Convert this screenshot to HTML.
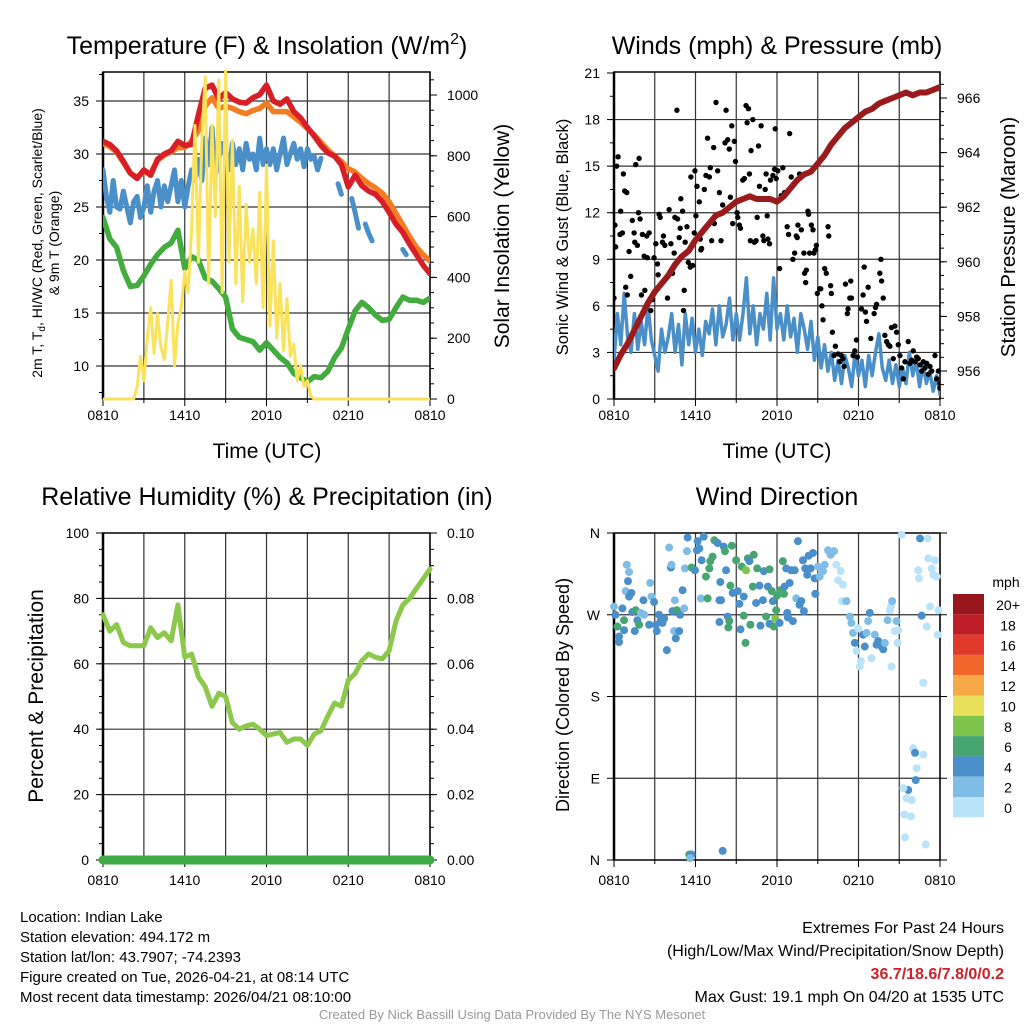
<!DOCTYPE html>
<html><head><meta charset="utf-8">
<style>
html,body{margin:0;padding:0;background:#fff;}
svg{display:block;font-family:"Liberation Sans",Arial,sans-serif;}
</style></head>
<body>
<svg id="c" width="1024" height="1024" viewBox="0 0 1024 1024" xmlns="http://www.w3.org/2000/svg">
<rect width="1024" height="1024" fill="#fff"/>
<g id="g1"></g>
<g id="g2"></g>
<g id="g3"></g>
<g id="g4"></g>
<text x="267" y="54" font-size="25" text-anchor="middle">Temperature (F) &amp; Insolation (W/m<tspan font-size="16" dy="-10">2</tspan><tspan dy="10">)</tspan></text>
<text x="777" y="54" font-size="25" text-anchor="middle">Winds (mph) &amp; Pressure (mb)</text>
<text x="267" y="505" font-size="25" text-anchor="middle">Relative Humidity (%) &amp; Precipitation (in)</text>
<text x="777" y="505" font-size="25" text-anchor="middle">Wind Direction</text>
<text transform="translate(42,243) rotate(-90)" font-size="14" text-anchor="middle">2m T, T<tspan font-size="10" dy="3">d</tspan><tspan dy="-3">, HI/WC (Red, Green, Scarlet/Blue)</tspan></text>
<text transform="translate(59,243) rotate(-90)" font-size="14" text-anchor="middle">&amp; 9m T (Orange)</text>
<text transform="translate(509,236) rotate(-90)" font-size="21" text-anchor="middle">Solar Insolation (Yellow)</text>
<text transform="translate(568,237) rotate(-90)" font-size="16.5" text-anchor="middle">Sonic Wind &amp; Gust (Blue, Black)</text>
<text transform="translate(1015,237) rotate(-90)" font-size="20.5" text-anchor="middle">Station Pressure (Maroon)</text>
<text transform="translate(43,696) rotate(-90)" font-size="21" text-anchor="middle">Percent &amp; Precipitation</text>
<text transform="translate(569,695) rotate(-90)" font-size="18" text-anchor="middle">Direction (Colored By Speed)</text>
<text x="267" y="458" font-size="21" text-anchor="middle">Time (UTC)</text>
<text x="777" y="458" font-size="21" text-anchor="middle">Time (UTC)</text>
<g font-size="15">
<text x="20" y="922">Location: Indian Lake</text>
<text x="20" y="942">Station elevation: 494.172 m</text>
<text x="20" y="962">Station lat/lon: 43.7907; -74.2393</text>
<text x="20" y="982">Figure created on Tue, 2026-04-21, at 08:14 UTC</text>
<text x="20" y="1002">Most recent data timestamp: 2026/04/21 08:10:00</text>
</g>
<g font-size="16" text-anchor="end">
<text x="1004" y="933">Extremes For Past 24 Hours</text>
<text x="1004" y="956">(High/Low/Max Wind/Precipitation/Snow Depth)</text>
<text x="1004" y="979" fill="#d0202a" font-weight="bold">36.7/18.6/7.8/0/0.2</text>
<text x="1004" y="1002">Max Gust: 19.1 mph On 04/20 at 1535 UTC</text>
</g>
<text x="512" y="1019" font-size="13" fill="#999" text-anchor="middle">Created By Nick Bassill Using Data Provided By The NYS Mesonet</text>
</svg>
<script>
// ---------- data ----------
const xTickLabels = ["0810","1410","2010","0210","0810"];
const tempTicks = [10,15,20,25,30,35];
const solarTicks = [0,200,400,600,800,1000];
const windTicks = [0,3,6,9,12,15,18,21];
const presTicks = [956,958,960,962,964,966];
const rhTicks = [0,20,40,60,80,100];
const precipTicks = ["0.00","0.02","0.04","0.06","0.08","0.10"];
const dirTicks = ["N","E","S","W","N"];
const tempRed = [31.2,30.9,30.3,29.3,28.2,27.7,28.5,28.0,29.5,30.0,30.3,31.2,30.8,30.9,33.7,36.2,36.5,35.2,35.8,35.2,34.9,34.8,35.3,35.6,36.5,35.0,34.7,35.2,34.0,33.4,32.5,31.7,30.8,30.1,29.8,29.0,26.9,28.0,27.0,26.5,26.2,25.5,24.5,23.4,22.6,21.5,20.5,19.5,18.7];
const temp9m = [31.0,30.7,30.2,29.2,28.2,27.8,28.3,28.2,29.4,29.9,30.2,30.6,30.6,31.2,32.2,34.5,35.3,34.3,34.5,34.3,34.0,33.8,34.1,34.3,34.8,34.0,34.0,34.0,33.5,33.0,32.4,31.8,31.1,30.4,29.8,29.3,28.6,28.3,27.7,27.2,26.8,26.3,25.5,24.4,23.3,22.2,21.2,20.5,19.9];
const dewpoint = [24.0,22.0,21.2,19.0,17.5,17.6,18.5,19.6,20.5,21.2,21.6,22.8,19.2,20.3,20.0,18.3,18.0,17.3,16.5,13.5,12.7,12.5,12.3,11.5,12.2,11.5,10.8,10.3,9.3,8.9,8.5,9.0,8.9,9.5,10.8,11.7,13.5,15.2,16.0,15.5,14.8,14.3,14.4,15.5,16.5,16.2,16.2,16.0,16.4];
const windChill = [28.5,26.0,24.5,27.5,25.0,24.8,26.5,25.0,23.5,25.5,26.0,24.0,25.0,27.0,24.5,26.5,27.5,25.0,27.0,25.5,27.0,28.5,25.5,27.5,25.0,27.0,28.5,27.5,29.5,27.5,31.5,29.0,32.5,28.0,29.5,31.0,30.0,28.5,31.0,29.0,30.5,28.5,31.0,29.5,30.0,28.5,31.5,29.0,30.5,29.0,30.5,28.5,30.0,31.5,29.0,30.0,31.0,29.5,30.5,28.8,30.5,29.5,29.8,28.5,29.6,null,null,null,null,27.2,26.2,null,null,25.8,24.5,23.0,null,23.4,22.5,21.8,null,null,null,null,null,null,null,null,21.0,20.5,null,null,null,null,null,null,null];
const solar = [0,0,0,0,0,0,0,0,0,0,40,140,60,200,300,150,280,170,130,250,390,110,250,300,420,350,560,900,450,850,1060,380,900,600,1050,350,1090,450,850,380,700,320,640,450,560,380,680,300,770,240,520,200,380,160,330,140,180,60,110,40,60,10,0,0,0,0,0,0,0,0,0,0,0,0,0,0,0,0,0,0,0,0,0,0,0,0,0,0,0,0,0,0,0,0,0,0,0];
const windSpeed = [2.5,5.5,3.5,6.8,4.0,3.0,5.5,3.2,5.0,3.5,6.0,3.8,2.8,1.8,4.5,3.0,4.0,5.5,3.0,4.8,2.2,5.5,3.5,5.2,3.0,4.5,2.8,5.0,4.2,5.8,3.5,6.0,4.0,4.8,6.5,3.8,5.5,3.8,5.5,7.8,4.2,6.0,3.5,5.5,4.5,6.8,3.8,7.8,4.5,5.5,3.8,6.0,4.0,5.2,3.0,5.5,4.5,3.2,5.0,2.5,4.0,2.0,3.5,1.8,3.0,1.2,2.5,1.0,2.8,2.0,0.8,3.0,1.5,2.5,0.8,2.8,1.5,3.0,4.2,2.0,1.2,2.5,1.0,2.2,0.8,2.0,1.0,3.0,1.5,2.5,0.8,2.2,1.0,1.8,0.5,1.5,0.3];
const pressure = [956.1,956.6,957.0,957.5,958.0,958.5,958.9,959.2,959.5,959.9,960.2,960.4,960.8,961.1,961.4,961.7,961.8,962.0,962.2,962.3,962.4,962.3,962.3,962.3,962.2,962.4,962.7,963.0,963.2,963.3,963.6,963.9,964.3,964.6,964.9,965.1,965.3,965.5,965.6,965.8,965.9,966.0,966.1,966.2,966.1,966.2,966.2,966.3,966.4];
const humidity = [75,70,72,66.5,65.5,65.5,65.5,71,68,69.5,67,78,62,63,56,53,47,51,50,42,40,41,41.5,40,38,38.5,39,36,37,37,35,38.5,39.5,44,48,47,55,57,61,63,62,61.5,64,73,78,80,83,86,89];
const precip = [0,0,0,0,0,0,0,0,0,0,0,0,0,0,0,0,0,0,0,0,0,0,0,0,0,0,0,0,0,0,0,0,0,0,0,0,0,0,0,0,0,0,0,0,0,0,0,0,0];
const gustT = [0,0.07,0.12,0.2,0.3,0.49,0.44,0.62,0.69,0.79,0.94,0.86,0.98,1.11,1.23,1.35,1.48,1.53,1.6,1.72,1.85,1.8,1.92,2.02,2.09,2.22,2.27,2.41,2.46,2.59,2.71,2.83,2.95,3.08,3.2,3.25,3.32,3.4,3.57,3.64,3.74,3.94,4.06,4.19,4.31,4.43,4.48,4.63,4.68,4.8,4.87,4.92,5.05,5.12,5.17,5.24,5.37,5.47,5.61,5.66,5.79,5.91,5.96,6.03,6.11,6.28,6.35,6.4,6.45,6.65,6.77,6.89,7.02,7.09,7.19,7.34,7.39,7.51,7.63,7.76,7.88,8.0,8.17,8.25,8.37,8.49,8.57,8.67,8.74,8.86,8.94,9.06,9.11,9.23,9.31,9.48,9.6,9.72,9.8,9.9,9.97,10.04,10.09,10.22,10.34,10.46,10.54,10.64,10.71,10.83,10.96,11.03,11.13,11.2,11.28,11.33,11.45,11.52,11.7,11.82,11.87,11.94,12.06,12.19,12.31,12.43,12.56,12.75,12.85,12.93,13.05,13.17,13.3,13.42,13.49,13.54,13.66,13.79,13.98,14.03,14.11,14.16,14.28,14.33,14.4,14.53,14.65,14.72,14.82,14.9,14.97,15.14,15.22,15.31,15.39,15.51,15.63,15.76,15.81,15.95,16.0,16.08,16.2,16.3,16.5,16.62,16.74,16.86,16.94,17.04,17.18,17.23,17.36,17.43,17.48,17.6,17.73,17.85,17.92,18.22,18.34,18.42,18.51,18.59,18.71,18.91,19.15,19.25,19.33,19.57,19.65,19.7,19.82,19.94,20.07,20.19,20.31,20.43,20.56,20.68,20.8,20.93,21.05,21.17,21.3,21.42,21.66,21.79,21.91,22.03,22.16,22.28,22.4,22.53,22.65,22.77,22.9,23.02,23.14,23.26,23.39,23.63,23.75,23.88,24.0,24.0];
const gustV = [6.5,11.2,9.8,15.0,15.6,12.1,10.6,10.7,14.5,13.4,13.3,7.2,6.7,9.5,7.9,11.5,10.7,10.1,15.1,9.9,15.5,12.0,11.6,6.7,10.6,9.2,7.0,10.5,9.1,10.7,5.7,6.4,9.1,10.0,8.7,8.0,11.9,11.7,10.1,10.5,9.9,6.5,12.2,10.0,8.1,9.4,11.7,18.6,11.6,10.4,11.0,12.9,12.1,5.7,7.0,10.1,11.1,8.8,8.5,14.3,8.6,10.7,14.7,11.8,13.7,12.7,10.3,9.6,9.7,13.5,14.4,16.8,14.3,14.9,10.2,16.2,11.3,19.1,14.7,13.3,10.2,12.5,16.5,18.6,16.7,16.1,13.0,17.6,11.3,16.6,15.3,12.0,11.7,11.2,11.0,14.1,14.2,18.9,17.8,18.7,14.5,10.2,16.0,18.0,10.1,10.2,11.7,16.3,13.7,17.6,10.5,10.2,13.5,14.5,11.8,10.3,10.0,14.1,14.4,14.8,17.4,14.2,14.7,8.4,13.1,14.9,13.3,11.1,10.6,17.1,14.3,9.0,9.4,10.5,10.4,11.2,14.5,10.9,9.4,8.1,7.5,8.3,12.1,11.9,9.4,11.2,10.9,9.4,9.6,9.9,6.8,7.1,7.1,6.0,5.1,8.4,8.1,11.1,10.5,7.3,6.8,4.3,2.8,3.4,2.9,2.4,2.8,2.6,2.1,7.4,5.5,5.8,6.5,7.6,6.5,2.8,3.1,3.8,2.7,5.8,6.7,8.5,5.6,5.0,7.2,3.9,5.5,5.9,6.1,8.1,9.0,7.6,6.5,4.1,3.7,3.5,3.4,4.6,2.6,4.7,4.3,3.5,2.8,2.0,1.3,2.4,3.7,2.3,2.5,3.1,2.4,2.7,2.6,2.2,1.8,2.4,2.0,2.3,1.6,2.1,1.8,2.8,1.3,1.8,1.0,0.7];
const dirT = [0.0,0.1,0.25,0.37,0.37,0.62,0.74,0.74,0.94,1.11,1.03,0.86,1.11,1.28,1.35,1.6,1.53,1.72,1.85,1.97,2.17,2.22,2.59,2.66,2.76,2.95,3.08,3.15,3.32,3.45,3.57,3.69,3.89,4.06,4.19,4.23,4.31,4.43,4.48,4.55,4.63,4.8,4.87,5.05,5.17,5.22,5.37,5.42,5.71,5.96,6.11,6.16,6.28,6.45,6.4,6.6,6.77,6.89,7.02,7.09,7.26,7.39,7.63,7.76,7.88,7.83,7.76,8.08,8.17,8.25,8.37,8.49,8.42,8.57,8.67,8.74,8.99,9.11,9.23,9.31,9.4,9.55,9.55,9.68,9.72,9.85,9.97,10.04,10.22,10.29,10.46,10.54,10.71,10.78,10.96,11.03,11.2,11.33,11.45,11.45,11.62,11.7,11.77,11.87,11.94,12.01,12.19,12.26,12.43,12.51,12.56,12.68,12.75,12.8,12.93,13.05,13.17,13.3,13.42,13.54,13.66,13.79,13.91,13.98,14.08,14.23,14.33,14.48,14.65,14.77,14.82,15.02,15.14,15.39,15.51,15.76,15.95,16.2,16.37,16.5,16.69,16.86,16.79,17.11,17.36,17.48,17.6,17.73,17.85,17.97,18.17,18.1,18.34,18.46,18.59,18.71,18.83,18.96,19.2,19.33,19.45,19.57,19.7,19.82,19.94,20.14,20.31,20.39,20.48,20.43,20.68,20.8,20.88,20.93,21.17,22.4,22.53,22.45,22.65,22.77,23.02,23.09,23.14,23.26,23.39,23.51,23.63,23.83,23.88,23.76,22.03,22.16,22.77,22.28,22.21,21.66,21.3,21.54,21.91,21.37,21.86,21.42,22.95,5.54,5.71,5.61,8.0];
const dirDeg = [279,270,257,246,240,277,264,253,325,317,307,296,290,294,273,275,252,264,259,272,286,270,259,305,290,284,259,252,270,264,261,266,231,344,322,325,274,252,286,244,275,252,270,297,277,321,340,355,322,319,341,351,343,330,288,356,312,288,321,329,334,352,349,286,286,306,262,345,340,319,268,263,256,302,346,294,330,296,282,254,323,290,269,239,319,332,329,259,301,336,283,321,302,258,286,318,268,301,260,320,296,285,257,266,275,291,261,297,329,293,301,321,272,267,305,319,263,319,288,351,281,285,330,274,321,314,335,321,338,310,293,323,312,318,325,341,336,340,325,308,318,303,285,285,268,261,250,239,230,255,219,213,248,235,250,263,272,222,248,237,241,239,235,232,239,264,275,279,285,213,252,263,239,253,358,319,354,310,269,195,257,354,332,279,321,314,330,248,275,312,123,118,116,101,88,77,79,68,66,50,48,25,17,6,6,2,10];
const dirSpd = [3,5,7,5,5,5,7,5,3,3,5,3,5,5,5,7,5,5,7,3,5,3,5,3,3,5,5,5,5,5,5,5,5,3,5,3,5,3,3,5,7,5,5,5,3,3,3,5,7,5,5,5,5,5,3,5,7,7,7,7,7,7,5,5,5,5,5,5,7,5,5,7,7,7,7,5,7,5,5,5,7,5,7,7,9,7,5,7,7,7,5,7,5,5,5,5,7,5,5,7,7,5,7,9,7,7,5,7,7,7,5,5,5,5,5,5,5,5,3,5,5,5,5,5,5,5,5,5,5,5,5,3,3,3,3,3,3,3,1,1,1,1,1,3,3,3,3,5,1,1,1,1,5,5,3,3,5,1,3,5,5,5,5,5,3,3,1,1,3,1,1,3,1,1,1,1,5,1,5,1,1,1,1,1,1,1,1,1,1,1,1,5,1,1,5,5,1,1,1,1,1,1,1,7,5,3,5];
const speedBins = ["0","2","4","6","8","10","12","14","16","18","20+"];
const speedColors = ["#b8e3f8","#7fbde7","#4a8fca","#47a571","#7ec34b","#e7e05a","#f8a947","#f1672b","#df3a2b","#bd1d26","#97171c"];

// ---------- helpers ----------
const NS="http://www.w3.org/2000/svg";
function mk(parent,tag,attrs){const e=document.createElementNS(NS,tag);for(const k in attrs)e.setAttribute(k,attrs[k]);parent.appendChild(e);return e;}
function scale(d0,d1,r0,r1){return v=>r0+(v-d0)/(d1-d0)*(r1-r0);}
const P1={x0:103,x1:430,y0:72,y1:399}, P2={x0:614,x1:940,y0:72,y1:399}, P3={x0:103,x1:430,y0:533,y1:860}, P4={x0:614,x1:940,y0:533,y1:860};
function tx(P){return scale(0,24,P.x0,P.x1);}
function frame(g,P,hY,labY){
  const x=tx(P);
  for(let h=0;h<=24;h+=3){const l=mk(g,'line',{x1:x(h),x2:x(h),y1:P.y0,y2:P.y1,stroke:'#333','stroke-width':1.2});
    
    mk(g,'line',{x1:x(h),x2:x(h),y1:P.y1,y2:P.y1+(h%6===0?7:4),stroke:'#000','stroke-width':1});}
  hY.forEach(y=>{const l=mk(g,'line',{x1:P.x0,x2:P.x1,y1:y,y2:y,stroke:'#333','stroke-width':1.2});
    });
  const b=mk(g,'rect',{x:P.x0,y:P.y0,width:P.x1-P.x0,height:P.y1-P.y0,fill:'none',stroke:'#000','stroke-width':1.5});
  
  mk(g,'line',{x1:P.x0,x2:P.x0,y1:P.y0,y2:P.y1,stroke:'#000','stroke-width':2.5});
  xTickLabels.forEach((s,i)=>{const t=mk(g,'text',{x:x(i*6),y:labY,'font-size':14,'text-anchor':'middle'});t.textContent=s;
    });
}
function yAxis(g,P,side,vals,ys,labels,minor){
  const xa= side==='l'?P.x0:P.x1, dir= side==='l'?-1:1;
  vals.forEach((v,i)=>{mk(g,'line',{x1:xa,x2:xa+dir*7,y1:ys[i],y2:ys[i],stroke:'#000','stroke-width':1});
    const t=mk(g,'text',{x: side==='l'?xa-14:xa+17,y:ys[i]+5,'font-size':14,'text-anchor':side==='l'?'end':'start'});t.textContent=labels[i];
    });
  (minor||[]).forEach(y=>{if(y>=P.y0&&y<=P.y1)mk(g,'line',{x1:xa,x2:xa+dir*4,y1:y,y2:y,stroke:'#000','stroke-width':1});});
}
function polyline(g,xs,ys,color,w,name){
  let segs=[],cur=[];
  for(let i=0;i<xs.length;i++){if(ys[i]==null){if(cur.length)segs.push(cur);cur=[];}else cur.push([xs[i],ys[i]]);}
  if(cur.length)segs.push(cur);
  segs.forEach(s=>{
    if(s.length===1){const c=mk(g,'circle',{cx:s[0][0],cy:s[0][1],r:w/2,fill:color});}
    else{const p=mk(g,'polyline',{points:s.map(q=>q[0].toFixed(1)+','+q[1].toFixed(1)).join(' '),fill:'none',stroke:color,'stroke-width':w,'stroke-linejoin':'round','stroke-linecap':'round'});
      }
  });
}
function clip(id,P){const d=mk(document.getElementById('c'),'clipPath',{id:id});mk(d,'rect',{x:P.x0,y:P.y0-2,width:P.x1-P.x0,height:P.y1-P.y0+4});return 'url(#'+id+')';}

// ---------- panel 1 ----------
(function(){
  const g=document.getElementById('g1'), P=P1, x=tx(P);
  const yT=scale(10,35,366,101), yS=scale(0,1000,399,95);
  frame(g,P,tempTicks.map(yT),420);
  const minT=[];for(let v=7.5;v<=37.5;v+=2.5)minT.push(yT(v));
  yAxis(g,P,'l',tempTicks,tempTicks.map(yT),tempTicks.map(String),minT);
  const minS=[];for(let v=0;v<=1100;v+=50)minS.push(yS(v));
  yAxis(g,P,'r',solarTicks,solarTicks.map(yS),solarTicks.map(String),minS);
  const d=mk(g,'g',{'clip-path':clip('cp1',P)});
  const th=tempRed.map((v,i)=>x(i*0.5)), tq=solar.map((v,i)=>x(i*0.25));
  polyline(d,th,temp9m.map(yT),'#f47d22',5.5,'line-9m-temperature');
  polyline(d,th,tempRed.map(yT),'#d81e26',5.5,'line-2m-temperature');
  polyline(d,tq,windChill.map(v=>v==null?null:yT(v)),'#4a8fc8',5,'line-wind-chill');
  polyline(d,th,dewpoint.map(yT),'#42ac3f',5.5,'line-dewpoint');
  polyline(d,tq,solar.map(yS),'#fbe25b',3,'line-solar-insolation');
})();

// ---------- panel 2 ----------
(function(){
  const g=document.getElementById('g2'), P=P2, x=tx(P);
  const yW=scale(0,21,399,73), yP=scale(956,966,371,98);
  frame(g,P,windTicks.slice(1,7).map(yW),420);
  const minW=[];for(let v=0;v<=21;v+=1.5)minW.push(yW(v));
  yAxis(g,P,'l',windTicks,windTicks.map(yW),windTicks.map(String),minW);
  const minP=[];for(let v=955;v<=967;v+=0.5)minP.push(yP(v));
  yAxis(g,P,'r',presTicks,presTicks.map(yP),presTicks.map(String),minP);
  const d=mk(g,'g',{'clip-path':clip('cp2',P)});
  polyline(d,windSpeed.map((v,i)=>x(i*0.25)),windSpeed.map(yW),'#4a8fc8',3.5,'line-sonic-wind');
  gustT.forEach((t,i)=>{const c=mk(d,'circle',{cx:x(t),cy:yW(gustV[i]),r:2.7,fill:'#000'});
    });
  polyline(d,pressure.map((v,i)=>x(i*0.5)),pressure.map(yP),'#9a1b1e',6,'line-station-pressure');
})();

// ---------- panel 3 ----------
(function(){
  const g=document.getElementById('g3'), P=P3, x=tx(P);
  const yR=scale(0,100,860,533), yPr=scale(0,0.1,860,533);
  frame(g,P,[20,40,60,80].map(yR),885);
  const minR=[];for(let v=0;v<=100;v+=5)minR.push(yR(v));
  yAxis(g,P,'l',rhTicks,rhTicks.map(yR),rhTicks.map(String),minR);
  yAxis(g,P,'r',rhTicks,rhTicks.map(yR),precipTicks,minR);
  polyline(g,humidity.map((v,i)=>x(i*0.5)),humidity.map(yR),'#8cc84b',5,'line-relative-humidity');
  polyline(g,precip.map((v,i)=>x(i*0.5)),precip.map(yPr),'#3fab47',9,'line-precipitation');
})();

// ---------- panel 4 ----------
(function(){
  const g=document.getElementById('g4'), P=P4, x=tx(P);
  const yD=scale(0,360,860,533);
  const tv=[0,90,180,270,360];
  frame(g,P,[90,180,270].map(yD),885);
  yAxis(g,P,'l',tv,tv.map(yD),dirTicks,[]);
  tv.forEach(v=>mk(g,'line',{x1:P.x1,x2:P.x1+7,y1:yD(v),y2:yD(v),stroke:'#000','stroke-width':1}));
  dirT.forEach((t,i)=>{const c=mk(g,'circle',{cx:x(t),cy:yD(dirDeg[i]),r:4,fill:speedColors[Math.min(10,Math.floor(dirSpd[i]/2))]});
    });
  const cb=mk(g,'g',{});
  
  const t=mk(cb,'text',{x:1006,y:587,'font-size':14,'text-anchor':'middle'});t.textContent='mph';
  
  speedBins.forEach((s,i)=>{const k=10-i, y=594+i*20.3;
    const r=mk(cb,'rect',{x:953,y:y,width:31,height:20.3,fill:speedColors[k]});
    
    const l=mk(cb,'text',{x:1008,y:y+16,'font-size':14,'text-anchor':'middle'});l.textContent=speedBins[k];
    });
})();
</script>
</body></html>
